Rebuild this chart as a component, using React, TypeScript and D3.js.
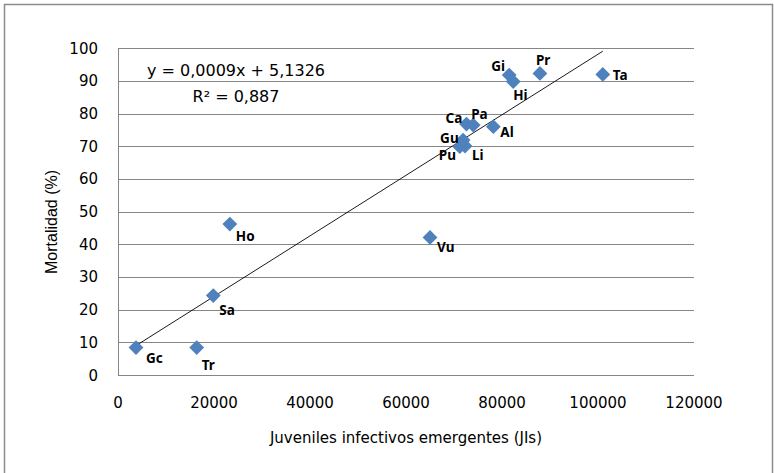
import React from "react";
import { useMemo } from "react";
import * as d3 from "d3";

const W = 774;
const H = 473;

// isolates
const names = ["Gc", "Tr", "Sa", "Ho", "Vu", "Pu", "Li", "Gu", "Ca", "Pa", "Al", "Gi", "Hi", "Pr", "Ta"];
const jis = [3750, 16400, 19850, 23300, 65000, 71200, 72300, 71900, 72600, 74000, 78200, 81500, 82350, 87900, 101000];
const mortalidad = [8.4, 8.4, 24.3, 46.2, 42.1, 69.9, 70.1, 71.9, 76.8, 76.5, 76.0, 91.8, 89.8, 92.3, 92.0];

// label offsets [dx, dy] from marker centre
const labelOffsets = [
  [10, 15], [5, 22], [6, 19], [6, 17], [7, 15], [-21, 13], [7, 14], [-23, 3],
  [-21, -1], [-2, -6], [7, 10], [-18, -4], [0, 18], [-4, -8], [10, 6],
];

const xTicks = [0, 20000, 40000, 60000, 80000, 100000, 120000];
const yTicks = [0, 10, 20, 30, 40, 50, 60, 70, 80, 90, 100];

const equation = "y = 0,0009x + 5,1326";
const r2 = "R² = 0,887";

const GRID = "#868686";
const BLUE = "#4F81BD";
const FONT = "DejaVu Sans";

export default function App() {
  const x = d3.scaleLinear().domain([0, 120000]).range([118, 694]);
  const y = d3.scaleLinear().domain([0, 100]).range([375, 48.3]);

  // least squares trend line
  const fit = useMemo(() => {
    const mx = d3.mean(jis)!;
    const my = d3.mean(mortalidad)!;
    let sxy = 0, sxx = 0;
    jis.forEach((v, i) => {
      sxy += (v - mx) * (mortalidad[i] - my);
      sxx += (v - mx) * (v - mx);
    });
    const b = sxy / sxx;
    const a = my - b * mx;
    const [x0, x1] = d3.extent(jis) as [number, number];
    return [[x0, a + b * x0], [x1, a + b * x1]];
  }, []);

  const line = d3.line<number[]>().x((d) => x(d[0])).y((d) => y(d[1]));
  const diamond = d3.symbol().type(d3.symbolDiamond2).size(140)();

  return (
    <svg width={W} height={H} style={{ position: "absolute", left: 0, top: 0 }}>
      <rect x={0} y={0} width={W} height={H} fill="#fff" />
      <rect x={4.5} y={4.5} width={768} height={490} fill="none" stroke="#8c8c8c" strokeWidth={1.5} />

      {yTicks.map((t) => (
        <line key={t} x1={x(0)} x2={x(120000)} y1={Math.round(y(t)) + 0.5} y2={Math.round(y(t)) + 0.5}
          stroke={GRID} strokeWidth={1} />
      ))}
      <line x1={x(0) + 0.5} x2={x(0) + 0.5} y1={y(100)} y2={y(0)} stroke={GRID} strokeWidth={1} />

      {yTicks.map((t) => (
        <text key={t} x={98} y={y(t) + 5.5} textAnchor="end" fontFamily={FONT} fontSize={15} fill="#000">{t}</text>
      ))}
      {xTicks.map((t) => (
        <text key={t} x={x(t)} y={408} textAnchor="middle" fontFamily={FONT} fontSize={15} fill="#000">{t}</text>
      ))}

      <text x={406} y={443} textAnchor="middle" fontFamily={FONT} fontSize={15} fill="#000">
        Juveniles infectivos emergentes (JIs)
      </text>
      <text transform={`translate(57,222) rotate(-90)`} textAnchor="middle" fontFamily="Liberation Sans" fontSize={16} fill="#000">
        Mortalidad (%)
      </text>

      <path d={line(fit) || ""} fill="none" stroke="#000" strokeWidth={0.9} />

      {names.map((n, i) => (
        <path key={n} d={diamond || ""} transform={`translate(${x(jis[i])},${y(mortalidad[i])})`} fill={BLUE} />
      ))}
      {names.map((n, i) => (
        <text key={n} x={x(jis[i]) + labelOffsets[i][0]} y={y(mortalidad[i]) + labelOffsets[i][1]}
          fontFamily="Noto Sans" fontWeight="bold" fontSize={13.5} fill="#000">{n}</text>
      ))}

      <text x={236} y={76} textAnchor="middle" fontFamily={FONT} fontSize={16} fill="#000">{equation}</text>
      <text x={236} y={102} textAnchor="middle" fontFamily={FONT} fontSize={16} fill="#000">{r2}</text>
    </svg>
  );
}
